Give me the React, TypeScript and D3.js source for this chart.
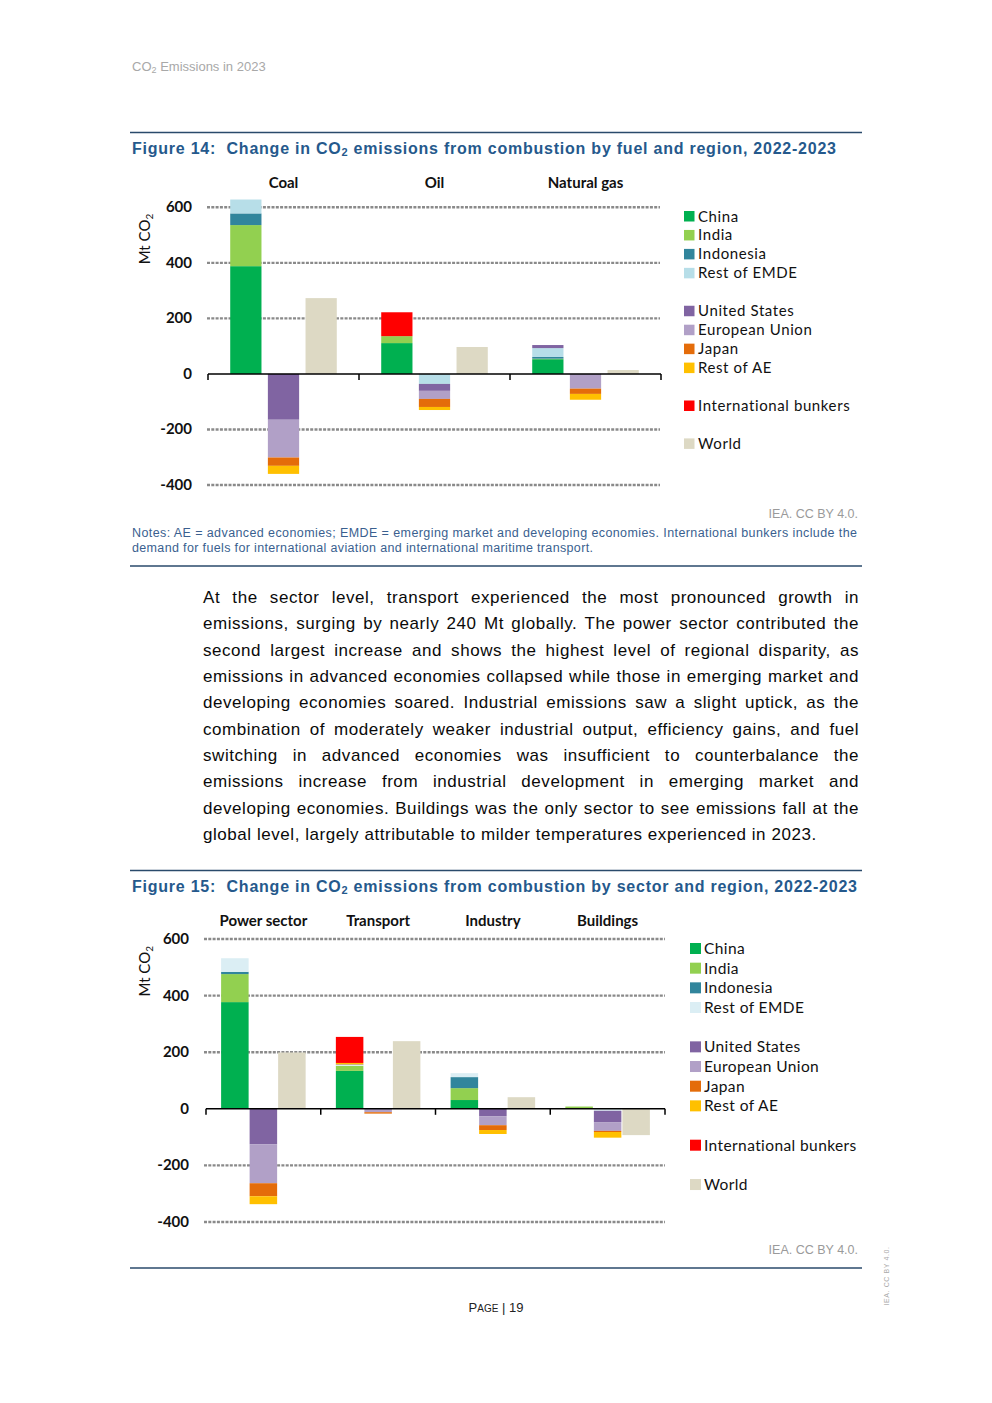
import React, { useLayoutEffect, useRef } from "react";
import * as d3 from "d3";

// ---------- data ----------
const regions = [
  "China",
  "India",
  "Indonesia",
  "Rest of EMDE",
  "United States",
  "European Union",
  "Japan",
  "Rest of AE",
  "International bunkers",
];
const worldLabel = "World";
const regionColors14 = ["#00b050", "#92d050", "#31859c", "#b7dee8", "#8064a2", "#b1a0c7", "#e46c0a", "#ffc000", "#ff0000"];
const regionColors15 = ["#00b050", "#92d050", "#31859c", "#dbeef4", "#8064a2", "#b1a0c7", "#e46c0a", "#ffc000", "#ff0000"];
const worldColor = "#ddd9c4";

const fuels = ["Coal", "Oil", "Natural gas"];
const fuelChina = [388, 111, 53];
const fuelIndia = [148, 25, 2];
const fuelIndonesia = [42, 0, 6];
const fuelRestEmde = [50, -36, 32];
const fuelUS = [-165, -25, 11];
const fuelEU = [-136, -29, -53];
const fuelJapan = [-30, -29, -19];
const fuelRestAe = [-29, -11, -21];
const fuelBunkers = [0, 86, 0];
const fuelWorld = [273, 97, 14];

const sectors = ["Power sector", "Transport", "Industry", "Buildings"];
const sectorChina = [377, 134, 31, 0];
const sectorIndia = [99, 18, 42, 8];
const sectorIndonesia = [8, 0, 39, 0];
const sectorRestEmde = [48, 3, 14, -7];
const sectorUS = [-125, 2, -26, -40];
const sectorEU = [-138, -12, -32, -31];
const sectorJapan = [-46, -5, -17, -4];
const sectorRestAe = [-28, 5, -14, -20];
const sectorBunkers = [0, 92, 0, 0];
const sectorWorld = [199, 239, 41, -93];

const yTicks = [-400, -200, 0, 200, 400, 600];
const barKinds = ["increase", "decrease", "world"];
const legendSlots = [0, 1, 2, 3, 5, 6, 7, 8, 10, 12];

const paragraph = [
  "At the sector level, transport experienced the most pronounced growth in",
  "emissions, surging by nearly 240 Mt globally. The power sector contributed the",
  "second largest increase and shows the highest level of regional disparity, as",
  "emissions in advanced economies collapsed while those in emerging market and",
  "developing economies soared. Industrial emissions saw a slight uptick, as the",
  "combination of moderately weaker industrial output, efficiency gains, and fuel",
  "switching in advanced economies was insufficient to counterbalance the",
  "emissions increase from industrial development in emerging market and",
  "developing economies. Buildings was the only sector to see emissions fall at the",
  "global level, largely attributable to milder temperatures experienced in 2023.",
];

const ARIAL = "'Liberation Sans', Arial, sans-serif";
const CAL = "Lato, 'Open Sans', sans-serif";
const RULE = "#2a4a6b";
const TITLE = "#25598c";
const NOTE = "#3a5f8f";

// ---------- components ----------
function JLine({ x, y, width, text, justify, size, spacing }: any) {
  const ref = useRef<SVGTextElement>(null);
  useLayoutEffect(() => {
    const el = ref.current;
    if (!el || !justify) return;
    el.setAttribute("word-spacing", "0");
    const w = el.getComputedTextLength();
    const spaces = (text.match(/ /g) || []).length;
    if (spaces > 0) el.setAttribute("word-spacing", String((width - w) / spaces));
  }, [text, width, justify]);
  return (
    <text ref={ref} x={x} y={y} fontFamily={ARIAL} fontSize={size} letterSpacing={spacing} fill="#0a0a0a">
      {text}
    </text>
  );
}

type ChartProps = {
  cats: string[];
  values: number[][];
  colors: string[];
  world: number[];
  x0: number;
  x1: number;
  yTop: number;
  yBottom: number;
  gridX0: number;
  gridX1: number;
  padInner: number;
  padOuter: number;
  tickX: number;
  titleX: number;
  catY: number;
  legSqX: number;
  legTextX: number;
  legBase: number;
  legStep: number;
  legFont: number;
  legSq: number;
  legSpacing: number;
};

function Chart(p: ChartProps) {
  const y = d3.scaleLinear().domain([yTicks[0], yTicks[yTicks.length - 1]]).range([p.yBottom, p.yTop]);
  const xc = d3.scaleBand<string>().domain(p.cats).range([p.x0, p.x1]).padding(0);
  const xs = d3
    .scaleBand<string>()
    .domain(barKinds)
    .range([0, xc.bandwidth()])
    .paddingInner(p.padInner)
    .paddingOuter(p.padOuter);
  const bw = xs.bandwidth();
  const rects: { x: number; y: number; h: number; c: string; k: string }[] = [];
  p.cats.forEach((cat, ci) => {
    let pos = 0;
    let neg = 0;
    p.values.forEach((row, ri) => {
      const v = row[ci];
      if (!v) return;
      if (v > 0) {
        rects.push({ x: (xc(cat) as number) + (xs("increase") as number), y: y(pos + v), h: y(pos) - y(pos + v), c: p.colors[ri], k: `${cat}-${ri}` });
        pos += v;
      } else {
        rects.push({ x: (xc(cat) as number) + (xs("decrease") as number), y: y(neg), h: y(neg + v) - y(neg), c: p.colors[ri], k: `${cat}-${ri}` });
        neg += v;
      }
    });
    const w = p.world[ci];
    rects.push({
      x: (xc(cat) as number) + (xs("world") as number),
      y: y(Math.max(0, w)),
      h: Math.abs(y(w) - y(0)),
      c: worldColor,
      k: `${cat}-world`,
    });
  });
  const y0 = y(0);
  const titleY = (p.yTop + y(400)) / 2 + 4;
  return (
    <g>
      {yTicks
        .filter((t) => t !== 0)
        .map((t) => (
          <line key={t} x1={p.gridX0} x2={p.gridX1} y1={y(t)} y2={y(t)} stroke="#8a8a8a" strokeWidth={2.4} strokeDasharray="3,1.3" />
        ))}
      {yTicks.map((t) => (
        <text key={t} x={p.tickX} y={y(t) + 5} textAnchor="end" fontFamily={CAL} fontWeight={700} fontSize={15} fill="#111">
          {t}
        </text>
      ))}
      <text
        transform={`translate(${p.titleX},${titleY}) rotate(-90)`}
        textAnchor="middle"
        fontFamily={CAL}
        fontSize={15}
        fill="#111"
      >
        Mt CO<tspan fontSize={10} dy={3}>2</tspan>
      </text>
      {p.cats.map((cat) => (
        <text key={cat} x={(xc(cat) as number) + xc.bandwidth() / 2} y={p.catY} textAnchor="middle" fontFamily={CAL} fontWeight={700} fontSize={15} fill="#111">
          {cat}
        </text>
      ))}
      {rects.map((r) => (
        <rect key={r.k} x={r.x} y={r.y} width={bw} height={Math.max(0, r.h)} fill={r.c} />
      ))}
      <line x1={p.x0} x2={p.x1} y1={y0} y2={y0} stroke="#000" strokeWidth={1.5} />
      {[...p.cats.map((c) => xc(c) as number), p.x1].map((xx, i) => (
        <line key={i} x1={xx} x2={xx} y1={y0} y2={y0 + 6} stroke="#000" strokeWidth={1.5} />
      ))}
      {[...regions, worldLabel].map((name, i) => {
        const by = p.legBase + legendSlots[i] * p.legStep;
        const col = i < regions.length ? p.colors[i] : worldColor;
        return (
          <g key={name}>
            <rect x={p.legSqX} y={by - p.legSq} width={p.legSq} height={p.legSq} fill={col} />
            <text x={p.legTextX} y={by} fontFamily={CAL} fontSize={p.legFont} letterSpacing={p.legSpacing} fill="#111">
              {name}
            </text>
          </g>
        );
      })}
    </g>
  );
}

function Title({ y, num, rest, len }: any) {
  return (
    <text x={132} y={y} fontFamily={ARIAL} fontWeight={700} fontSize={16} fill={TITLE} textLength={len} lengthAdjust="spacing" style={{ whiteSpace: "pre" }}>
      {`Figure ${num}:  Change in CO`}
      <tspan fontSize={11} dy={2}>2</tspan>
      <tspan dy={-2}>{rest}</tspan>
    </text>
  );
}

export default function App() {
  const fuelValues = [fuelChina, fuelIndia, fuelIndonesia, fuelRestEmde, fuelUS, fuelEU, fuelJapan, fuelRestAe, fuelBunkers];
  const sectorValues = [sectorChina, sectorIndia, sectorIndonesia, sectorRestEmde, sectorUS, sectorEU, sectorJapan, sectorRestAe, sectorBunkers];
  return (
    <svg width={992} height={1403} style={{ position: "absolute", left: 0, top: 0, background: "#fff" }}>
      <rect width={992} height={1403} fill="#fff" />
      {/* header */}
      <text x={132} y={71} fontFamily={ARIAL} fontSize={13} fill="#a8a8a8">
        CO<tspan fontSize={9} dy={2}>2</tspan>
        <tspan dy={-2}> Emissions in 2023</tspan>
      </text>

      {/* Figure 14 */}
      <line x1={130} x2={862} y1={132.5} y2={132.5} stroke={RULE} strokeWidth={1.6} />
      <Title y={153.5} num={14} rest=" emissions from combustion by fuel and region, 2022-2023" len={704} />
      <Chart
        cats={fuels}
        values={fuelValues}
        colors={regionColors14}
        world={fuelWorld}
        x0={208}
        x1={661}
        yTop={207.3}
        yBottom={485}
        gridX0={207}
        gridX1={660}
        padInner={0.17}
        padOuter={0.59}
        tickX={192}
        titleX={150}
        catY={188}
        legSqX={684}
        legTextX={698}
        legBase={221.5}
        legStep={18.95}
        legFont={15}
        legSq={10.5}
        legSpacing={0.6}
      />
      <text x={858} y={518} textAnchor="end" fontFamily={ARIAL} fontSize={12.5} fill="#9a9a9a">
        IEA. CC BY 4.0.
      </text>
      <text x={132} y={537} fontFamily={ARIAL} fontSize={12.5} fill={NOTE} textLength={725} lengthAdjust="spacing">
        Notes: AE = advanced economies; EMDE = emerging market and developing economies. International bunkers include the
      </text>
      <text x={132} y={552} fontFamily={ARIAL} fontSize={12.5} fill={NOTE} textLength={461} lengthAdjust="spacing">
        demand for fuels for international aviation and international maritime transport.
      </text>
      <line x1={130} x2={862} y1={566} y2={566} stroke={RULE} strokeWidth={1.6} />

      {/* paragraph */}
      {paragraph.map((line, i) => (
        <JLine key={i} x={203} y={603 + i * 26.33} width={656} text={line} justify={i < paragraph.length - 1} size={17} spacing={0.55} />
      ))}

      {/* Figure 15 */}
      <line x1={130} x2={862} y1={870.5} y2={870.5} stroke={RULE} strokeWidth={1.6} />
      <Title y={891.5} num={15} rest=" emissions from combustion by sector and region, 2022-2023" len={725} />
      <Chart
        cats={sectors}
        values={sectorValues}
        colors={regionColors15}
        world={sectorWorld}
        x0={206}
        x1={665}
        yTop={939}
        yBottom={1222}
        gridX0={204}
        gridX1={665}
        padInner={0.035}
        padOuter={0.53}
        tickX={189}
        titleX={150}
        catY={926}
        legSqX={690}
        legTextX={704}
        legBase={954}
        legStep={19.67}
        legFont={15.5}
        legSq={11}
        legSpacing={0.4}
      />
      <text x={858} y={1254} textAnchor="end" fontFamily={ARIAL} fontSize={12.5} fill="#9a9a9a">
        IEA. CC BY 4.0.
      </text>
      <line x1={130} x2={862} y1={1268} y2={1268} stroke={RULE} strokeWidth={1.6} />

      {/* footer */}
      <text x={496} y={1312} textAnchor="middle" fontFamily={ARIAL} fontSize={13} fill="#222">
        P<tspan fontSize={10}>AGE</tspan> | 19
      </text>
      <text transform="translate(889,1276) rotate(-90)" textAnchor="middle" fontFamily={ARIAL} fontSize={7} fill="#aaa" letterSpacing={0.6}>
        IEA. CC BY 4.0.
      </text>
    </svg>
  );
}
